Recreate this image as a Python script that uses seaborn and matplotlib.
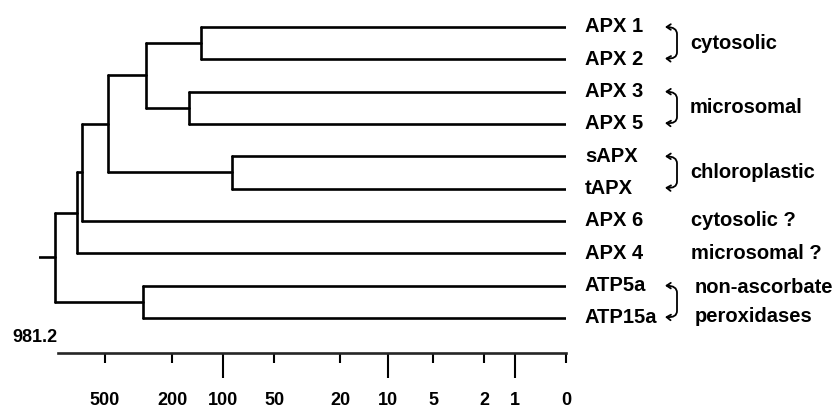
import numpy as np
import pandas as pd
import seaborn as sns
import matplotlib
matplotlib.use("Agg")
import matplotlib.pyplot as plt
from matplotlib.path import Path
from matplotlib.patches import FancyArrowPatch

# ---------------- data ----------------
leaves = ["APX 1", "APX 2", "APX 3", "APX 5", "sAPX", "tAPX",
          "APX 6", "APX 4", "ATP5a", "ATP15a"]
node_names = ["n1", "n2", "n3", "n4", "n5", "n6", "n7", "n8", "root"]
node_left = ["APX 1", "APX 3", "n1", "sAPX", "n3", "n5", "n6", "ATP5a", "n7"]
node_right = ["APX 2", "APX 5", "n2", "tAPX", "n4", "APX 6", "APX 4", "ATP15a", "n8"]
node_height = [135, 159, 285, 89, 478, 676, 720, 298, 981.2]
root_label = "981.2"
root_stub_end = 1210

major_ticks = [100, 10, 1]
minor_ticks = [500, 200, 50, 20, 5, 2, 0]
major_labels = ["100", "10", "1"]
minor_labels = ["500", "200", "50", "20", "5", "2", "0"]

group_first = ["APX 1", "APX 3", "sAPX", "ATP5a"]
group_text = ["cytosolic", "microsomal", "chloroplastic", "non-ascorbate\nperoxidases"]
single_leaf = ["APX 6", "APX 4"]
single_text = ["cytosolic ?", "microsomal ?"]

# ---------------- build segments ----------------
pos = {name: (0.0, float(i)) for i, name in enumerate(leaves)}
rows = []
seg = 0
for name, l, r, h in zip(node_names, node_left, node_right, node_height):
    xl, yl = pos[l]
    xr, yr = pos[r]
    for (xa, ya, xb, yb) in [(xl, yl, h, yl), (xr, yr, h, yr), (h, yl, h, yr)]:
        rows.append({"seg": seg, "x": float(xa), "y": float(ya)})
        rows.append({"seg": seg, "x": float(xb), "y": float(yb)})
        seg += 1
    pos[name] = (float(h), (yl + yr) / 2)
rx, ry = pos["root"]
rows.append({"seg": seg, "x": rx, "y": ry})
rows.append({"seg": seg, "x": float(root_stub_end), "y": ry})
df = pd.DataFrame(rows)

# ---------------- figure ----------------
sns.set_theme(style="white")
plt.rcParams["font.family"] = ["Liberation Sans", "DejaVu Sans"]

W, H = 839, 409
fig = plt.figure(figsize=(W / 100, H / 100), dpi=100)
ax_left_px, ax_right_px = 39, 566
ax_top_px, ax_bot_px = 10, 353
ax = fig.add_axes([ax_left_px / W, (H - ax_bot_px) / H,
                   (ax_right_px - ax_left_px) / W, (ax_bot_px - ax_top_px) / H])

sns.lineplot(data=df, x="x", y="y", units="seg", estimator=None, sort=False,
             color="black", linewidth=1.9, ax=ax, legend=False)

fwd = lambda v: np.log10(np.maximum(v, 0) + 1)
inv = lambda v: 10 ** v - 1
ax.set_xscale("function", functions=(fwd, inv))
ax.set_xlim(root_stub_end, 0)
leaf_px = 32.33
ax.set_ylim((ax_bot_px - 27) / leaf_px, (ax_top_px - 27) / leaf_px)

for s in ["top", "right", "left"]:
    ax.spines[s].set_visible(False)
ax.spines["bottom"].set_linewidth(1.9)
ax.spines["bottom"].set_bounds(935, 0)
ax.set_yticks([])
ax.set_xlabel("")
ax.set_ylabel("")

ax.set_xticks(major_ticks)
ax.set_xticklabels(major_labels)
ax.set_xticks(minor_ticks, minor=True)
ax.set_xticklabels(minor_labels, minor=True)
ax.tick_params(axis="x", which="major", direction="out", length=18, width=1.5,
               pad=9.8, labelsize=13, colors="black", bottom=True)
ax.tick_params(axis="x", which="minor", direction="out", length=7.2, width=1.5,
               pad=20.6, labelsize=13, colors="black", bottom=True)
for t in ax.get_xticklabels(which="both"):
    t.set_fontweight("bold")

# root value label (left of the root, below the tree)
tr = ax.get_yaxis_transform()
fx = lambda px: (px - ax_left_px) / (ax_right_px - ax_left_px)
ax.text(fx(35), (337 - 27) / leaf_px, root_label, transform=tr, ha="center",
        va="center", fontsize=13, fontweight="bold", color="black", clip_on=False)

# ---------------- labels ----------------
lab_kw = dict(fontsize=14.5, fontweight="bold", color="black", va="center",
              ha="left", transform=tr, clip_on=False)
for i, name in enumerate(leaves):
    ax.text(fx(585), i, name, **lab_kw)

for first, txt in zip(group_first, group_text):
    i = leaves.index(first)
    lines = txt.split("\n")
    if len(lines) == 1:
        ax.text(fx(690), i + 0.5, txt, **lab_kw)
    else:
        ax.text(fx(695), i + 0.5 - 0.44, lines[0], **lab_kw)
        ax.text(fx(695), i + 0.5 + 0.44, lines[1], **lab_kw)
    xt, xv = fx(665), fx(677)
    verts = [(xt, i), (xv, i), (xv, i + 0.22),
             (xv, i + 0.78),
             (xv, i + 1), (xt, i + 0.97)]
    codes = [Path.MOVETO, Path.CURVE3, Path.CURVE3, Path.LINETO,
             Path.CURVE3, Path.CURVE3]
    arr = FancyArrowPatch(path=Path(verts, codes),
                          arrowstyle="<->,head_length=3,head_width=2",
                          transform=tr, color="black", lw=1.3, clip_on=False)
    ax.add_patch(arr)

for name, txt in zip(single_leaf, single_text):
    ax.text(fx(691), leaves.index(name), txt, **lab_kw)

fig.savefig("out.png", dpi=100)
